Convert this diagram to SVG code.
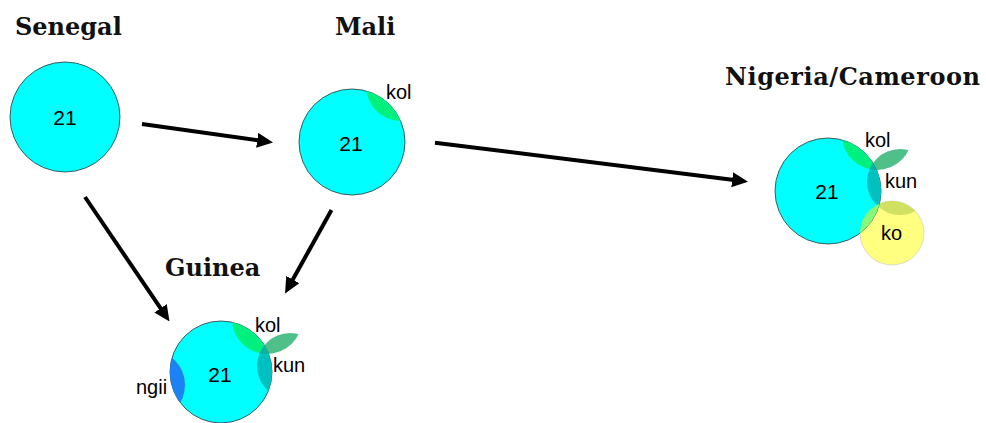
<svg xmlns="http://www.w3.org/2000/svg" width="986" height="423" viewBox="0 0 986 423">
<style>
.title{font-family:"DejaVu Serif","Liberation Serif",serif;font-weight:bold;font-size:24px;fill:#111}
.num{font-family:"Liberation Sans",Arial,sans-serif;font-size:21px;fill:#000;text-anchor:middle}
.lab{font-family:"Liberation Sans",Arial,sans-serif;font-size:20px;fill:#000}
.base{fill:#00ffff;stroke:#333;stroke-width:0.8}
.kolin{fill:#00f080}
.leaf{fill:#50c08a}
.kunin{fill:#00c0c0}
.tri{fill:#10b0a0}
.ko{fill:#ffff80;stroke:#bbb;stroke-width:0.5}
.kokun{fill:#d0e060}
.cko{fill:#86f97a}
.ngii{fill:#1a82f5}
.conn{stroke:#000;stroke-width:4;fill:none}
</style>
<defs>
<marker id="arr" viewBox="0 0 16 15" refX="6" refY="7.5" markerWidth="16" markerHeight="15" markerUnits="userSpaceOnUse" orient="auto">
<path d="M0,0 L16,7.5 L0,15 z" fill="#000"/>
</marker>
<clipPath id="mC"><circle cx="352" cy="142" r="53"/></clipPath>
<clipPath id="nC"><circle cx="828" cy="191" r="53"/></clipPath>
<clipPath id="nK"><circle cx="877" cy="135" r="35"/></clipPath>
<clipPath id="nO"><circle cx="892" cy="233" r="32"/></clipPath>
<clipPath id="gC"><circle cx="221" cy="372" r="51"/></clipPath>
<clipPath id="gK"><circle cx="267" cy="319" r="35"/></clipPath>
</defs>

<g id="connectors">
<line class="conn" x1="142" y1="124" x2="263.1" y2="141.1" marker-end="url(#arr)"/>
<line class="conn" x1="435" y1="142.7" x2="738.1" y2="180.5" marker-end="url(#arr)"/>
<line class="conn" x1="85" y1="197" x2="163.9" y2="313.2" marker-end="url(#arr)"/>
<line class="conn" x1="331.5" y1="210" x2="289.9" y2="284.8" marker-end="url(#arr)"/>
</g>

<g id="senegal">
<text class="title" x="15" y="35">Senegal</text>
<circle class="base" cx="65" cy="117" r="55"/>
<text class="num" x="65" y="125">21</text>
</g>

<g id="mali">
<text class="title" x="335" y="35">Mali</text>
<circle class="base" cx="352" cy="142" r="53"/>
<g clip-path="url(#mC)"><circle class="kolin" cx="401" cy="86" r="35"/></g>
<text class="num" x="351" y="151">21</text>
<text class="lab" x="386" y="99">kol</text>
</g>

<g id="nigeria">
<text class="title" x="725" y="85" textLength="255" lengthAdjust="spacing">Nigeria/Cameroon</text>
<g clip-path="url(#nK)"><circle class="leaf" cx="900" cy="182" r="33"/></g>
<circle class="ko" cx="892" cy="233" r="32"/>
<g clip-path="url(#nO)"><circle class="kokun" cx="900" cy="182" r="33"/></g>
<circle class="base" cx="828" cy="191" r="53"/>
<g clip-path="url(#nC)">
<circle class="kolin" cx="877" cy="135" r="35"/>
<circle class="kunin" cx="900" cy="182" r="33"/>
<g clip-path="url(#nK)"><circle class="tri" cx="900" cy="182" r="33"/></g>
<circle class="cko" cx="892" cy="233" r="32"/>
</g>
<text class="num" x="827" y="199">21</text>
<text class="lab" x="865" y="147">kol</text>
<text class="lab" x="885" y="188">kun</text>
<text class="lab" x="881" y="240">ko</text>
</g>

<g id="guinea">
<text class="title" x="165" y="276">Guinea</text>
<g clip-path="url(#gK)"><circle class="leaf" cx="290" cy="366" r="33"/></g>
<circle class="base" cx="221" cy="372" r="51"/>
<g clip-path="url(#gC)">
<circle class="kolin" cx="267" cy="319" r="35"/>
<circle class="kunin" cx="290" cy="366" r="33"/>
<g clip-path="url(#gK)"><circle class="tri" cx="290" cy="366" r="33"/></g>
<circle class="ngii" cx="150" cy="385" r="35"/>
</g>
<text class="num" x="220" y="382">21</text>
<text class="lab" x="255" y="332">kol</text>
<text class="lab" x="273" y="372">kun</text>
<text class="lab" x="136" y="394">ngii</text>
</g>
</svg>
